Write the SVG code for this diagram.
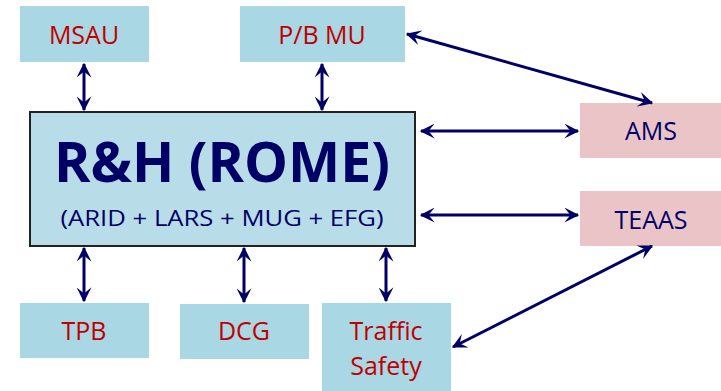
<svg xmlns="http://www.w3.org/2000/svg" width="721" height="391" viewBox="0 0 721 391">
<style>
.blue{fill:#a9d7e3}
.pink{fill:#eac4c6}
.lbl{font-family:"Open Sans","Liberation Sans",sans-serif;font-size:25px;fill:#c00000;text-anchor:middle}
.lbl2{font-family:"Open Sans","Liberation Sans",sans-serif;font-size:25px;fill:#000066;text-anchor:middle}
.conn{stroke:#000066;stroke-width:3;fill:none;marker-start:url(#ah);marker-end:url(#ah)}
</style>
<defs>
<marker id="ah" viewBox="0 0 12 12" refX="11" refY="6" markerWidth="5" markerHeight="5" orient="auto-start-reverse" markerUnits="strokeWidth">
<path d="M0,0 L12,6 L0,12 L5,6 Z" fill="#000066"/>
</marker>
</defs>
<g id="msau"><rect class="blue" x="20" y="6" width="129" height="56"/><text class="lbl" x="84" y="44">MSAU</text></g>
<g id="pbmu"><rect class="blue" x="240" y="6" width="165" height="56"/><text class="lbl" x="322" y="44">P/B MU</text></g>
<g id="rh"><rect x="30" y="112" width="385" height="134" fill="#b8dde8" stroke="#222" stroke-width="2"/>
<text x="222" y="182" font-family="'Open Sans','Liberation Sans',sans-serif" font-weight="bold" font-size="55" fill="#000066" text-anchor="middle" textLength="336" lengthAdjust="spacingAndGlyphs">R&amp;H (ROME)</text>
<text x="222" y="226" font-family="'Open Sans','Liberation Sans',sans-serif" font-size="22" fill="#000066" text-anchor="middle" textLength="323" lengthAdjust="spacingAndGlyphs">(ARID + LARS + MUG + EFG)</text></g>
<g id="ams"><rect class="pink" x="580" y="103" width="141" height="55"/><text class="lbl2" x="651" y="140">AMS</text></g>
<g id="teaas"><rect class="pink" x="580" y="191" width="141" height="55"/><text class="lbl2" x="651" y="229">TEAAS</text></g>
<g id="tpb"><rect class="blue" x="20" y="303" width="129" height="55"/><text class="lbl" x="84" y="340">TPB</text></g>
<g id="dcg"><rect class="blue" x="180" y="304" width="129" height="55"/><text class="lbl" x="244" y="340">DCG</text></g>
<g id="traffic"><rect class="blue" x="322" y="303" width="129" height="88"/><text class="lbl" x="386" y="340">Traffic</text><text class="lbl" x="386" y="375">Safety</text></g>
<g id="connectors">
<line class="conn" x1="84" y1="64" x2="84" y2="110"/>
<line class="conn" x1="322" y1="64" x2="322" y2="110"/>
<line class="conn" x1="84" y1="248" x2="84" y2="301"/>
<line class="conn" x1="244" y1="248" x2="244" y2="302"/>
<line class="conn" x1="386" y1="248" x2="386" y2="301"/>
<line class="conn" x1="421" y1="131" x2="578" y2="131"/>
<line class="conn" x1="421" y1="215" x2="578" y2="215"/>
<line class="conn" x1="407" y1="34" x2="652" y2="103"/>
<line class="conn" x1="652" y1="246" x2="453" y2="347"/>
</g>
</svg>
